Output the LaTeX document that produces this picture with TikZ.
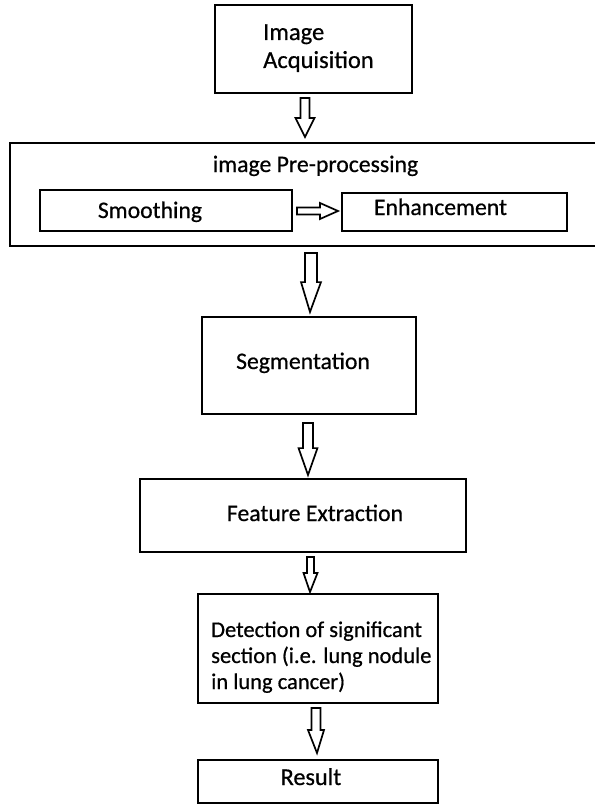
\documentclass[tikz,border=0pt]{standalone}
\usepackage{fontspec}
\setmainfont{Carlito}[FakeBold=0.6]
\usetikzlibrary{calc}
\tikzset{
  frame/.style={draw=black, line width=2.2bp, fill=white, inner sep=0pt},
  lbl/.style={inner sep=0pt, font=\fontsize{23.7bp}{28bp}\selectfont},
  smalllbl/.style={inner sep=0pt, font=\fontsize{22.5bp}{26bp}\selectfont},
  % hollow block arrow pointing down: shaft half width, head half width, head length
  blockdown/.style n args={3}{draw=black, line width=1.7bp, fill=white, line join=miter,
    to path={let \p1=(\tikztostart), \p2=(\tikztotarget) in
      (\x1-#1,\y1) -- (\x1+#1,\y1) -- (\x1+#1,\y2+#3) -- (\x1+#2,\y2+#3)
      -- (\x2,\y2) -- (\x1-#2,\y2+#3) -- (\x1-#1,\y2+#3) -- cycle}},
  % hollow block arrow pointing right
  blockright/.style n args={3}{draw=black, line width=1.7bp, fill=white, line join=miter,
    to path={let \p1=(\tikztostart), \p2=(\tikztotarget) in
      (\x1,\y1+#1) -- (\x2-#3,\y1+#1) -- (\x2-#3,\y1+#2) -- (\x2,\y2)
      -- (\x2-#3,\y1-#2) -- (\x2-#3,\y1-#1) -- (\x1,\y1-#1) -- cycle}}
}
\begin{document}
\begin{tikzpicture}[x=1bp,y=-1bp]
\useasboundingbox (0,0) rectangle (595,804);
\fill[white] (0,0) rectangle (595,804);
\clip (0,0) rectangle (595,804);

% boxes
\node[frame, minimum width=197bp, minimum height=88bp] (acq) at (313.5,49) {};
\node[lbl, font=\fontsize{24.5bp}{28bp}\selectfont, anchor=base west, align=left] (acqtxt) at (263,68) {Image\\Acquisition};

\node[frame, minimum width=600bp, minimum height=103bp] (pre) at (310,194.5) {};
\node[lbl, anchor=base] (pretitle) at (315.5,172) {image Pre-processing};
\node[frame, minimum width=252bp, minimum height=41bp] (smooth) at (166,210.5) {};
\node[lbl, anchor=base] (smoothtxt) at (150,218) {Smoothing};
\node[frame, minimum width=225bp, minimum height=38bp] (enh) at (454.5,212) {};
\node[lbl, anchor=base] (enhtxt) at (440.5,215) {Enhancement};

\node[frame, minimum width=214bp, minimum height=97bp] (seg) at (309,365.5) {};
\node[lbl, anchor=base] (segtxt) at (303,369) {Segmentation};

\node[frame, minimum width=326bp, minimum height=73bp] (feat) at (303,515.5) {};
\node[lbl, anchor=base] (feattxt) at (315,521) {Feature Extraction};

\node[frame, minimum width=240bp, minimum height=109bp] (det) at (318,648.5) {};
\node[smalllbl, anchor=base west, align=left] (dettxt) at (211,689) {Detection of significant\\section (i.e. lung nodule\\in lung cancer)};

\node[frame, minimum width=240bp, minimum height=43bp] (res) at (318,781.5) {};
\node[lbl, font=\fontsize{24.2bp}{28bp}\selectfont, anchor=base] (restxt) at (311,785) {Result};

% arrow end points
\coordinate (a1s) at (305,98);   \coordinate (a1e) at (305,137);
\coordinate (ahs) at (297,211);  \coordinate (ahe) at (338,211);
\coordinate (a2s) at (311,253);  \coordinate (a2e) at (310,312);
\coordinate (a3s) at (308,423);  \coordinate (a3e) at (308,475);
\coordinate (a4s) at (310.5,557);\coordinate (a4e) at (310,592);
\coordinate (a5s) at (316,708);  \coordinate (a5e) at (317,753);

% connectors
\draw[blockdown={4.5}{9.5}{19}] (a1s) to (a1e);
\draw[blockright={3.5}{8}{18}] (ahs) to (ahe);
\draw[blockdown={6}{10}{30}] (a2s) to (a2e);
\draw[blockdown={5}{9.5}{27}] (a3s) to (a3e);
\draw[blockdown={3.5}{7}{19}] (a4s) to (a4e);
\draw[blockdown={4.5}{8}{23}] (a5s) to (a5e);
\end{tikzpicture}
\end{document}
